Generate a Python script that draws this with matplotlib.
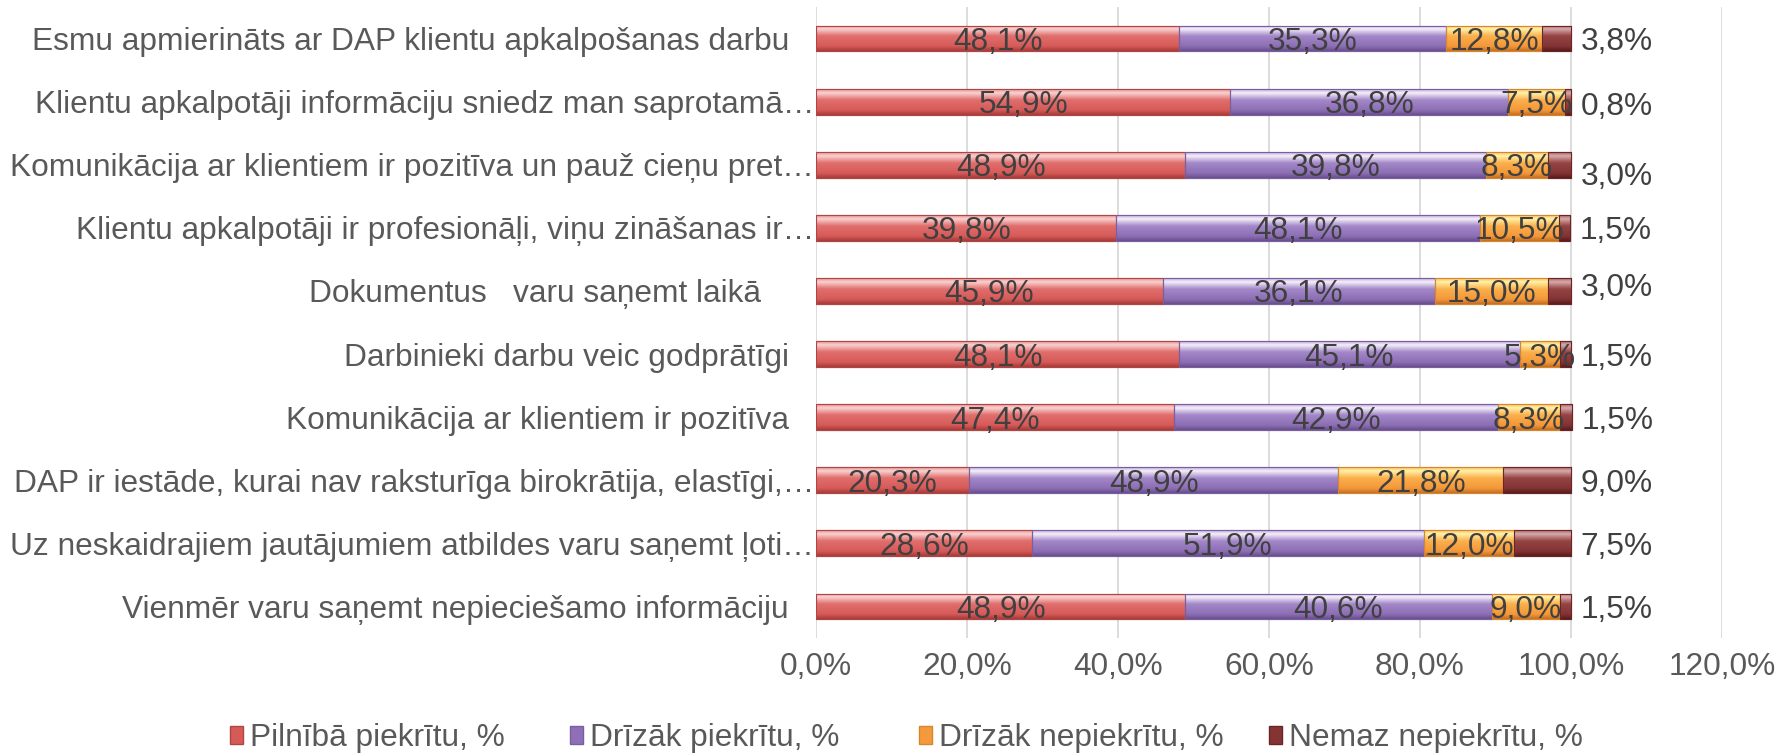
import numpy as np
import matplotlib
matplotlib.use("Agg")
import matplotlib.pyplot as plt
from matplotlib.colors import LinearSegmentedColormap
from matplotlib.patches import Rectangle
from matplotlib.transforms import blended_transform_factory, offset_copy

plt.rcParams['font.family'] = ['Liberation Sans', 'DejaVu Sans']

categories = [
    "Esmu apmierināts ar DAP klientu apkalpošanas darbu",
    "Klientu apkalpotāji informāciju sniedz man saprotamā…",
    "Komunikācija ar klientiem ir pozitīva un pauž cieņu pret…",
    "Klientu apkalpotāji ir profesionāļi, viņu zināšanas ir…",
    "Dokumentus   varu saņemt laikā",
    "Darbinieki darbu veic godprātīgi",
    "Komunikācija ar klientiem ir pozitīva",
    "DAP ir iestāde, kurai nav raksturīga birokrātija, elastīgi,…",
    "Uz neskaidrajiem jautājumiem atbildes varu saņemt ļoti…",
    "Vienmēr varu saņemt nepieciešamo informāciju",
]
series_names = ["Pilnībā piekrītu, %", "Drīzāk piekrītu, %",
                "Drīzāk nepiekrītu, %", "Nemaz nepiekrītu, %"]
pilniba = [48.1, 54.9, 48.9, 39.8, 45.9, 48.1, 47.4, 20.3, 28.6, 48.9]
drizak_pie = [35.3, 36.8, 39.8, 48.1, 36.1, 45.1, 42.9, 48.9, 51.9, 40.6]
drizak_ne = [12.8, 7.5, 8.3, 10.5, 15.0, 5.3, 8.3, 21.8, 12.0, 9.0]
nemaz = [3.8, 0.8, 3.0, 1.5, 3.0, 1.5, 1.5, 9.0, 7.5, 1.5]
xticks = [0, 20, 40, 60, 80, 100, 120]

# styles
grad_stops = [
    ["#E79090", "#FAD2D2", "#E06E6C", "#D65A58", "#A83C3A"],
    ["#BCA8D6", "#F6F0FB", "#A388C8", "#8C6EB4", "#6A4F8E"],
    ["#F8C060", "#FFF2A8", "#FBB04C", "#F4983A", "#C47024"],
    ["#A86464", "#D8AAAA", "#954444", "#833333", "#5A1C1C"],
]
edge_cols = ["#B04644", "#7A5FA0", "#D8862E", "#6A2626"]
legend_cols = ["#D65A58", "#8E70B6", "#F49A3C", "#853434"]
label_pad_px = [27, 2, 2, 2, 55, 27, 27, 2, 2, 27]
outer_dy_px = [0, 2, 9, 0, -6, 0, 0, 0, 0, 0]
legend_x_px = [230, 570, 919, 1269]
FS = 22.8

W, H, DPI = 17.86, 7.54, 100
fig = plt.figure(figsize=(W, H), dpi=DPI)
ax = fig.add_axes([816 / 1786, 1 - 638 / 754, (1722 - 816) / 1786, (638 - 7) / 754])

data = [pilniba, drizak_pie, drizak_ne, nemaz]
n = len(categories)
y = np.arange(n)
left = np.zeros(n)
bar_h = 0.41
for k, vals in enumerate(data):
    vals = np.array(vals)
    bars = ax.barh(y, vals, left=left, height=bar_h, color=legend_cols[k],
                   edgecolor=edge_cols[k], linewidth=0.8, zorder=3)
    cmap = LinearSegmentedColormap.from_list(
        f"g{k}", list(zip([0, 0.14, 0.42, 0.82, 1.0], grad_stops[k])))
    grad = np.linspace(0, 1, 64).reshape(-1, 1)
    for b in bars:
        x0, y0 = b.get_x(), b.get_y()
        w, h = b.get_width(), b.get_height()
        im = ax.imshow(grad, cmap=cmap, aspect='auto', interpolation='bilinear',
                       extent=[x0, x0 + w, y0 + h, y0], origin='upper', zorder=3.5)
        im.set_clip_path(b)
        ax.add_patch(Rectangle((x0, y0), w, h, fill=False, edgecolor=edge_cols[k],
                               linewidth=0.8, zorder=3.6))
    for i, (l, v) in enumerate(zip(left, vals)):
        txt = f"{v:.1f}%".replace('.', ',')
        if k < 3:
            ax.text(l + v / 2, y[i], txt, ha='center', va='center_baseline',
                    fontsize=FS, color='#404040', zorder=5)
        else:
            ax.annotate(txt, (l + v, y[i]),
                        xytext=(7, -outer_dy_px[i] * 0.72), textcoords='offset points',
                        ha='left', va='center_baseline', fontsize=FS, color='#404040',
                        zorder=5, annotation_clip=False)
    left = left + vals

ax.set_xlim(0, 120)
ax.set_ylim(n - 0.5, -0.5)
ax.set_xticks(xticks)
ax.set_xticklabels([f"{t:.1f}%".replace('.', ',') for t in xticks])
ax.tick_params(axis='x', length=0, pad=10, labelsize=FS, labelcolor='#595959')
ax.set_yticks([])
ax.grid(axis='x', color='#D9D9D9', linewidth=1.3, zorder=0)
ax.set_axisbelow(True)
for s in ax.spines.values():
    s.set_visible(False)

trans = blended_transform_factory(ax.transAxes, ax.transData)
for i, c in enumerate(categories):
    t = offset_copy(trans, fig=fig, x=-label_pad_px[i], y=0, units='dots')
    ax.text(0, y[i], c, transform=t, ha='right', va='center_baseline', fontsize=FS,
            color='#595959')

for k in range(4):
    h = Rectangle((0, 0), 1, 1, facecolor=legend_cols[k], edgecolor=edge_cols[k])
    leg = fig.legend([h], [series_names[k]], loc='center left',
                     bbox_to_anchor=(legend_x_px[k] / 1786, 1 - 738 / 754),
                     frameon=False, fontsize=FS, labelcolor='#595959',
                     handlelength=0.42, handleheight=0.5, handletextpad=0.2,
                     borderpad=0, borderaxespad=0)

fig.savefig("out.png", dpi=DPI)
